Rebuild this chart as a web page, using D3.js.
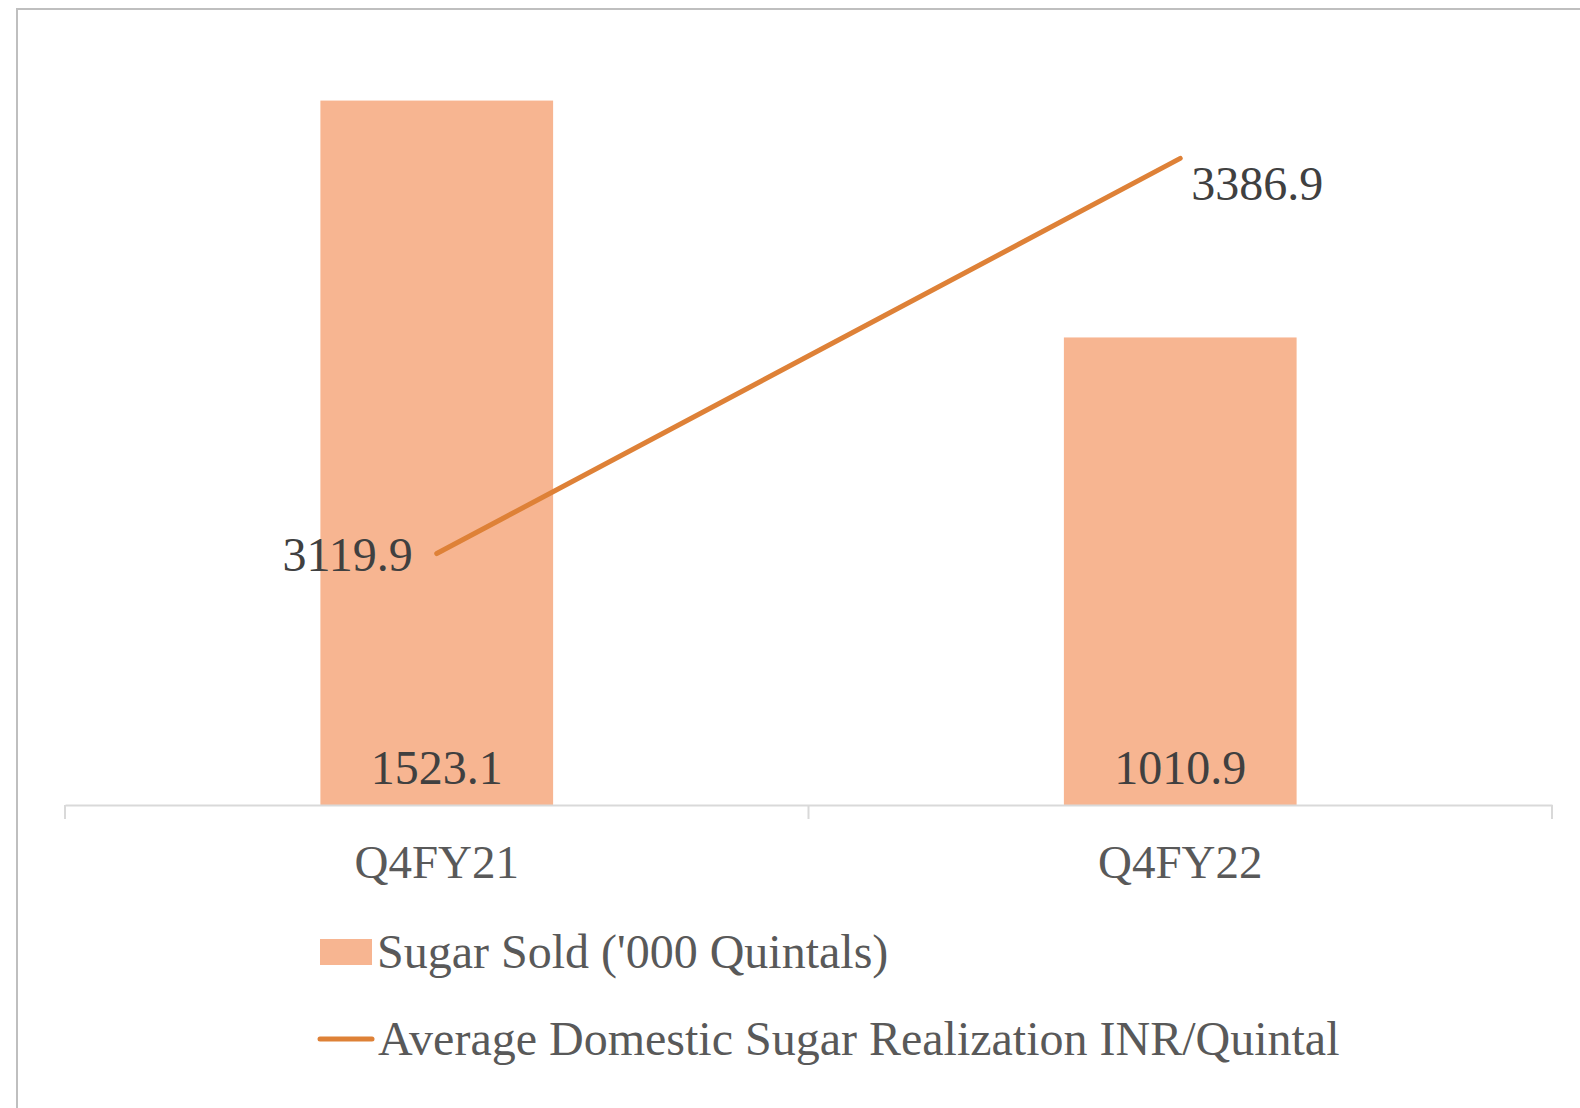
<!DOCTYPE html>
<meta charset="UTF-8">
<style>
  body { margin: 0; background: #fff; }
  text { font-family: "Liberation Serif", "Times New Roman", serif; }
</style>
<script src="https://d3js.org/d3.v7.min.js"></script>
<svg id="chart" width="1580" height="1108"></svg>
<script>
// data
var categories = ["Q4FY21", "Q4FY22"];
var sugarSold = [1523.1, 1010.9];
var realization = [3119.9, 3386.9];
var seriesNames = ["Sugar Sold ('000 Quintals)", "Average Domestic Sugar Realization INR/Quintal"];

var svg = d3.select("#chart");
var barColor = "#F7B591", lineColor = "#DE8137";

// chart border (cut by the window on the right and bottom)
svg.append("rect")
  .attr("x", 17).attr("y", 9)
  .attr("width", 1600).attr("height", 1200)
  .attr("fill", "none").attr("stroke", "#bfbfbf").attr("stroke-width", 2);

var x = d3.scaleBand().domain(categories).range([65, 1552])
  .paddingInner(0.687).paddingOuter(0.3435);
var y = d3.scaleLinear().domain([0, 1600]).range([805, 65]);
var y2 = d3.scaleLinear().domain([2950, 3450]).range([805, 65]);
var cx = function(d) { return x(d) + x.bandwidth() / 2; };

// bars
svg.append("g").selectAll("rect")
  .data(categories)
  .enter().append("rect")
    .attr("x", function(d) { return x(d); })
    .attr("y", function(d, i) { return y(sugarSold[i]); })
    .attr("width", x.bandwidth())
    .attr("height", function(d, i) { return y(0) - y(sugarSold[i]); })
    .attr("fill", barColor);

// category axis
var axis = svg.append("g").attr("transform", "translate(0,805)")
  .call(d3.axisBottom(x.copy().paddingInner(0).paddingOuter(0)).tickSize(0).tickFormat(""));
axis.select(".domain").attr("stroke", "#d9d9d9").attr("stroke-width", 2);
axis.selectAll(".tick").remove();
var edges = [65, 65 + (1552 - 65) / 2, 1552];
axis.selectAll("line.sep").data(edges).enter().append("line")
  .attr("class", "sep")
  .attr("x1", function(d) { return d; }).attr("x2", function(d) { return d; })
  .attr("y1", 0).attr("y2", 14)
  .attr("stroke", "#d9d9d9").attr("stroke-width", 2);

svg.append("g").selectAll("text")
  .data(categories)
  .enter().append("text")
    .attr("x", cx).attr("y", 878)
    .attr("text-anchor", "middle")
    .attr("font-size", 47).attr("fill", "#595959")
    .text(function(d) { return d; });

// bar labels
svg.append("g").selectAll("text")
  .data(categories)
  .enter().append("text")
    .attr("x", cx).attr("y", 784)
    .attr("text-anchor", "middle")
    .attr("font-size", 48).attr("fill", "#404040")
    .text(function(d, i) { return sugarSold[i].toFixed(1); });

// line
var line = d3.line()
  .x(function(d, i) { return cx(categories[i]); })
  .y(function(d) { return y2(d); });
svg.append("path")
  .datum(realization)
  .attr("d", line)
  .attr("fill", "none").attr("stroke", lineColor)
  .attr("stroke-width", 5).attr("stroke-linecap", "round");

// line labels
svg.append("text")
  .attr("x", cx(categories[0]) - 24).attr("y", y2(realization[0]) + 17)
  .attr("text-anchor", "end")
  .attr("font-size", 48).attr("fill", "#404040")
  .text(realization[0].toFixed(1));
svg.append("text")
  .attr("x", cx(categories[1]) + 11).attr("y", y2(realization[1]) + 42)
  .attr("text-anchor", "start")
  .attr("font-size", 48).attr("fill", "#404040")
  .text(realization[1].toFixed(1));

// legend
var legend = svg.append("g");
legend.append("rect")
  .attr("x", 320).attr("y", 939).attr("width", 52).attr("height", 26)
  .attr("fill", barColor);
legend.append("text")
  .attr("x", 377).attr("y", 968)
  .attr("font-size", 48).attr("fill", "#595959")
  .text(seriesNames[0]);
legend.append("line")
  .attr("x1", 320).attr("x2", 372).attr("y1", 1039).attr("y2", 1039)
  .attr("stroke", lineColor).attr("stroke-width", 5).attr("stroke-linecap", "round");
legend.append("text")
  .attr("x", 378).attr("y", 1055)
  .attr("font-size", 48).attr("fill", "#595959")
  .text(seriesNames[1]);
</script>
